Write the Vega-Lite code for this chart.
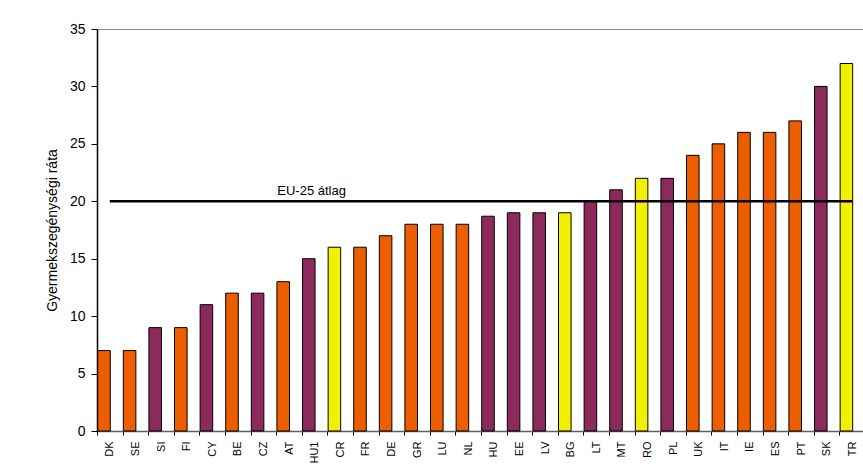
{
  "$schema": "https://vega.github.io/schema/vega-lite/v6.json",
  "width": 768,
  "height": 402,
  "autosize": "none",
  "padding": {"left": 97, "top": 29, "right": 0, "bottom": 44},
  "background": "#ffffff",
  "config": {
    "font": "Liberation Sans",
    "view": {"stroke": "#8c8c8c", "strokeWidth": 1},
    "axis": {"grid": false}
  },
  "datasets": {
    "bars": [
      {"orszag": "DK", "rata": 7, "csoport": "EU-15"},
      {"orszag": "SE", "rata": 7, "csoport": "EU-15"},
      {"orszag": "SI", "rata": 9, "csoport": "Új tagállam"},
      {"orszag": "FI", "rata": 9, "csoport": "EU-15"},
      {"orszag": "CY", "rata": 11, "csoport": "Új tagállam"},
      {"orszag": "BE", "rata": 12, "csoport": "EU-15"},
      {"orszag": "CZ", "rata": 12, "csoport": "Új tagállam"},
      {"orszag": "AT", "rata": 13, "csoport": "EU-15"},
      {"orszag": "HU1", "rata": 15, "csoport": "Új tagállam"},
      {"orszag": "CR", "rata": 16, "csoport": "Tagjelölt"},
      {"orszag": "FR", "rata": 16, "csoport": "EU-15"},
      {"orszag": "DE", "rata": 17, "csoport": "EU-15"},
      {"orszag": "GR", "rata": 18, "csoport": "EU-15"},
      {"orszag": "LU", "rata": 18, "csoport": "EU-15"},
      {"orszag": "NL", "rata": 18, "csoport": "EU-15"},
      {"orszag": "HU", "rata": 18.7, "csoport": "Új tagállam"},
      {"orszag": "EE", "rata": 19, "csoport": "Új tagállam"},
      {"orszag": "LV", "rata": 19, "csoport": "Új tagállam"},
      {"orszag": "BG", "rata": 19, "csoport": "Tagjelölt"},
      {"orszag": "LT", "rata": 20, "csoport": "Új tagállam"},
      {"orszag": "MT", "rata": 21, "csoport": "Új tagállam"},
      {"orszag": "RO", "rata": 22, "csoport": "Tagjelölt"},
      {"orszag": "PL", "rata": 22, "csoport": "Új tagállam"},
      {"orszag": "UK", "rata": 24, "csoport": "EU-15"},
      {"orszag": "IT", "rata": 25, "csoport": "EU-15"},
      {"orszag": "IE", "rata": 26, "csoport": "EU-15"},
      {"orszag": "ES", "rata": 26, "csoport": "EU-15"},
      {"orszag": "PT", "rata": 27, "csoport": "EU-15"},
      {"orszag": "SK", "rata": 30, "csoport": "Új tagállam"},
      {"orszag": "TR", "rata": 32, "csoport": "Tagjelölt"}
    ],
    "atlag": [
      {"tol": "DK", "ig": "TR", "ertek": 20, "felirat": "EU-25 átlag", "hely": "HU1"}
    ]
  },
  "layer": [
    {
      "data": {"name": "bars"},
      "mark": {"type": "bar", "width": {"band": 0.49}, "xOffset": -5.8, "stroke": "#000000", "strokeWidth": 1},
      "encoding": {
        "x": {
          "field": "orszag", "type": "nominal", "sort": null,
          "scale": {"paddingInner": 0, "paddingOuter": 0},
          "axis": {
            "title": null, "labelAngle": -90, "labelAlign": "right", "labelBaseline": "middle",
            "labelFontSize": 11, "labelColor": "#000000",
            "tickBand": "extent", "tickSize": 4, "tickColor": "#000000", "labelPadding": 6,
            "domainColor": "#606060", "domainWidth": 1.5
          }
        },
        "y": {
          "field": "rata", "type": "quantitative",
          "scale": {"domain": [0, 35], "nice": false},
          "axis": {
            "title": "Gyermekszegénységi ráta", "titleFontSize": 14, "titleFontWeight": "normal",
            "titleColor": "#000000", "titlePadding": 10,
            "values": [0, 5, 10, 15, 20, 25, 30, 35],
            "labelFontSize": 14, "labelColor": "#000000", "tickSize": 6, "labelPadding": 6,
            "tickColor": "#000000", "domainColor": "#000000", "domainWidth": 1.5
          }
        },
        "color": {
          "field": "csoport", "type": "nominal",
          "scale": {"domain": ["EU-15", "Új tagállam", "Tagjelölt"], "range": ["#EC5E00", "#8C2A5C", "#F0F000"]},
          "legend": null
        }
      }
    },
    {
      "data": {"name": "atlag"},
      "mark": {"type": "rule", "strokeWidth": 2.5, "color": "#000000"},
      "encoding": {
        "x": {"field": "tol", "type": "nominal", "sort": null},
        "x2": {"field": "ig"},
        "y": {"field": "ertek", "type": "quantitative"}
      }
    },
    {
      "data": {"name": "atlag"},
      "mark": {"type": "text", "dy": -10, "dx": -3, "fontSize": 13, "color": "#000000"},
      "encoding": {
        "x": {"field": "hely", "type": "nominal", "sort": null},
        "y": {"field": "ertek", "type": "quantitative"},
        "text": {"field": "felirat"}
      }
    }
  ]
}
